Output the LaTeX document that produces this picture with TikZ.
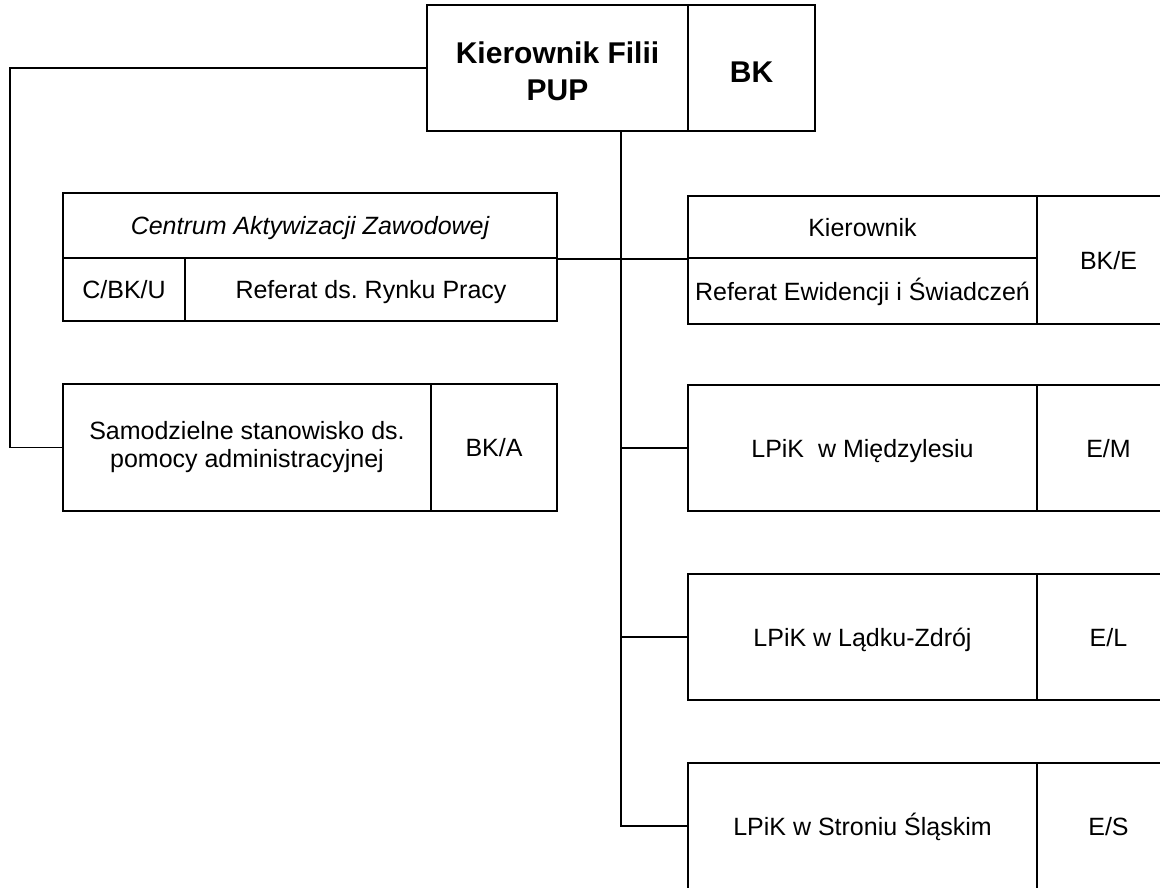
\documentclass[tikz,border=0pt]{standalone}
\usepackage{fontspec}
\setmainfont{Liberation Sans}
\frenchspacing
\begin{document}
\begin{tikzpicture}[x=1pt,y=-1pt,
  box/.style={draw, line width=1.6pt, inner sep=0pt, align=center,
    font=\fontsize{25}{28}\selectfont},
  onecell/.style={box, text height=18pt, text depth=0pt},
  headcell/.style={box, font=\fontsize{30}{37}\selectfont\bfseries},
  link/.style={line width=1.6pt}]
\clip (0,0) rectangle (1160,887);
\fill[white] (0,0) rectangle (1160,887);
% top
\node[headcell, minimum width=261pt, minimum height=126pt] (top) at (557.5,68) {\rule{0pt}{29pt}Kierownik Filii\\PUP};
\node[headcell, minimum width=127pt, minimum height=126pt, text height=28.5pt, text depth=0pt] (topbk) at (751.5,68) {BK};
% CAZ
\node[onecell, minimum width=494pt, minimum height=65pt] (caz) at (310,225.5) {\itshape Centrum Aktywizacji Zawodowej};
\node[onecell, minimum width=122pt, minimum height=63pt] (cbku) at (124,289.5) {C/BK/U};
\node[onecell, minimum width=372pt, minimum height=63pt] (rynek) at (371,289.5) {Referat ds. Rynku Pracy};
% Kierownik referatu
\node[onecell, minimum width=349pt, minimum height=62pt] (kier) at (862.5,227) {Kierownik};
\node[onecell, minimum width=349pt, minimum height=66pt] (ewid) at (862.5,291) {Referat Ewidencji i Świadczeń};
\node[onecell, minimum width=143pt, minimum height=128pt] (bke) at (1108.5,260) {BK/E};
% Samodzielne
\node[box, minimum width=368pt, minimum height=127pt] (samo) at (247,447.5) {Samodzielne stanowisko ds.\\pomocy administracyjnej};
\node[onecell, minimum width=126pt, minimum height=127pt] (bka) at (494,447.5) {BK/A};
% LPiK
\node[onecell, minimum width=349pt, minimum height=126pt] (lpm) at (862.5,448) {LPiK\ \ w Międzylesiu};
\node[onecell, minimum width=143pt, minimum height=126pt] (em) at (1108.5,448) {E/M};
\node[onecell, minimum width=349pt, minimum height=126pt] (lpl) at (862.5,637) {LPiK w Lądku-Zdrój};
\node[onecell, minimum width=143pt, minimum height=126pt] (el) at (1108.5,637) {E/L};
\node[onecell, minimum width=349pt, minimum height=126pt] (lps) at (862.5,826) {LPiK w Stroniu Śląskim};
\node[onecell, minimum width=143pt, minimum height=126pt] (es) at (1108.5,826) {E/S};
% connectors
\coordinate (lc) at (10,68);
\coordinate (sp) at (621,826);
\draw[link] (top.west) -- (lc) |- (samo.west);
\draw[link] (top.south -| sp) -- (sp) -- (lps.west);
\draw[link] (caz.south east) -- (kier.south west);
\draw[link] (lpm.west -| sp) -- (lpm.west);
\draw[link] (lpl.west -| sp) -- (lpl.west);
\end{tikzpicture}
\end{document}
